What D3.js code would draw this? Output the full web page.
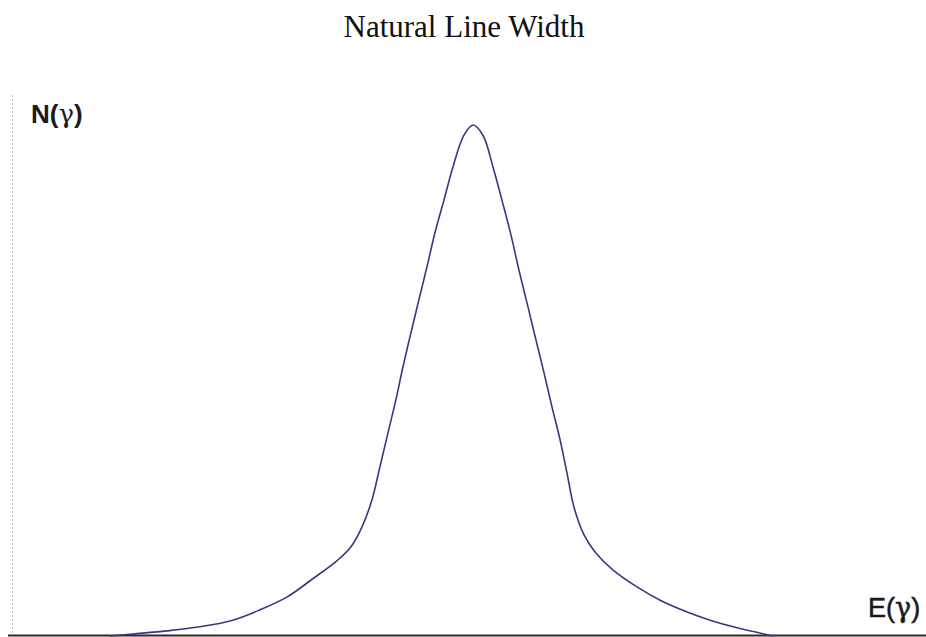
<!DOCTYPE html>
<html>
<head>
<meta charset="utf-8">
<script src="https://cdn.jsdelivr.net/npm/d3@7"></script>
<style>
  html, body { margin: 0; padding: 0; background: #ffffff; }
  svg { display: block; }
</style>
</head>
<body>
<svg id="chart" width="926" height="637"></svg>
<script>
// Photon energy offset from line centre (arbitrary units)
const energy = [
  -4.033, -3.778, -3.400, -3.033, -2.667, -2.367, -2.067, -1.778, -1.511, -1.356,
  -1.233, -1.122, -1.033, -0.944, -0.856, -0.778, -0.689, -0.600, -0.511, -0.422,
  -0.322, -0.222, -0.100, 0.000, 0.111, 0.222, 0.322, 0.422, 0.511, 0.611,
  0.700, 0.789, 0.878, 0.967, 1.044, 1.122, 1.233, 1.367, 1.556, 1.822,
  2.078, 2.378, 2.633, 2.933, 3.333
];
// Relative number of photons N(γ) at each energy (peak = 1)
const counts = [
  0.000, 0.004, 0.010, 0.018, 0.031, 0.051, 0.076, 0.112, 0.147, 0.174,
  0.213, 0.266, 0.331, 0.397, 0.462, 0.526, 0.593, 0.658, 0.722, 0.789,
  0.853, 0.918, 0.980, 1.000, 0.980, 0.918, 0.853, 0.785, 0.716, 0.644,
  0.579, 0.515, 0.448, 0.384, 0.319, 0.252, 0.198, 0.162, 0.129, 0.096,
  0.070, 0.047, 0.031, 0.016, 0.000
];

const titleText = "Natural Line Width";
const yLabel = ["N(", "γ", ")"];
const xLabel = ["E(", "γ", ")"];

const svg = d3.select("#chart");

const x = d3.scaleLinear().domain([-5.14, 5.03]).range([10, 926]);
const y = d3.scaleLinear().domain([0, 1]).range([636, 125]);

// Title
svg.append("text")
  .attr("x", 464).attr("y", 37)
  .attr("text-anchor", "middle")
  .attr("font-family", "'Liberation Serif', 'Times New Roman', serif")
  .attr("font-size", 31)
  .attr("fill", "#111")
  .text(titleText);

// Faint vertical axis
svg.append("line")
  .attr("x1", 12.5).attr("x2", 12.5)
  .attr("y1", 95).attr("y2", 636)
  .attr("stroke", "#b8b8b8")
  .attr("stroke-width", 1)
  .attr("stroke-dasharray", "2,2");

// Horizontal energy axis
svg.append("line")
  .attr("x1", 8).attr("x2", 926)
  .attr("y1", 635.5).attr("y2", 635.5)
  .attr("stroke", "#2a2a2a")
  .attr("stroke-width", 2);

// Line profile
const pts = energy.map((e, i) => [e, counts[i]]);
const line = d3.line()
  .x(d => x(d[0]))
  .y(d => y(d[1]))
  .curve(d3.curveCatmullRom.alpha(0.5));

svg.append("path")
  .datum(pts)
  .attr("d", line)
  .attr("fill", "none")
  .attr("stroke", "#383880")
  .attr("stroke-width", 1.6)
  .attr("stroke-linejoin", "round");

// Axis labels: Latin parts in sans, gamma in a serif face
function label(parts, xPos, yPos, size, bold) {
  const t = svg.append("text")
    .attr("x", xPos).attr("y", yPos)
    .attr("font-family", "'Liberation Sans', Arial, sans-serif")
    .attr("font-size", size)
    .attr("font-weight", bold ? "bold" : "normal")
    .attr("fill", "#1a1a1a");
  if (!bold) t.attr("stroke", "#1a1a1a").attr("stroke-width", 0.5);
  parts.forEach((p, i) => {
    const s = t.append("tspan").text(p);
    if (i === 1) s.attr("font-family", "'DejaVu Serif', 'Liberation Serif', serif")
      .attr("font-weight", "normal").attr("font-size", size);
  });
}
label(yLabel, 31, 123, 26, true);
label(xLabel, 868, 617, 27, false);
</script>
</body>
</html>
